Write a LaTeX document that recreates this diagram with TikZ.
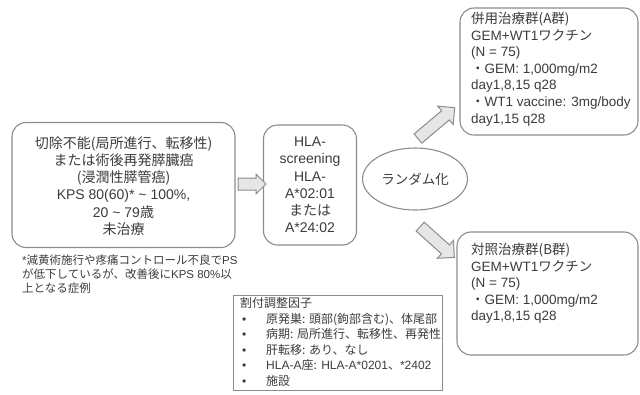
\documentclass[tikz,border=0pt]{standalone}
\usepackage{fontspec}
\setmainfont{Liberation Sans}
\newfontfamily\jp{Noto Sans CJK JP}
\usetikzlibrary{shapes.geometric,shapes.arrows}
\definecolor{txt}{HTML}{3C3C3C}
\definecolor{edge}{HTML}{8C8C8C}
\definecolor{afill}{HTML}{E6E6E6}
\begin{document}
\begin{tikzpicture}[x=1pt,y=-1pt,
  every node/.style={text=txt},
  roundbox/.style={draw=edge, line width=1.1pt, rounded corners=14pt, fill=white},
  plainbox/.style={draw=edge, line width=1pt},
  bigtext/.style={font=\fontsize{14}{17.2}\selectfont, align=center, inner sep=0pt},
  grptext/.style={font=\fontsize{13.5}{16.6}\selectfont, align=left, inner sep=0pt, anchor=north west},
  smalltext/.style={font=\fontsize{11.5}{14}\selectfont, align=left, inner sep=0pt, anchor=north west},
  blockarrow/.style={single arrow, draw=edge, fill=afill, line width=1pt, inner sep=0pt, single arrow tip angle=90},
]
\useasboundingbox (0,0) rectangle (640,394);

% left box
\node[roundbox, minimum width=223pt, minimum height=125pt] (left) at (123.5,185) {};
\node[bigtext] (lefttext) at (123.5,186) {{\jp 切除不能(局所進行、転移性)}\\{\jp または術後再発膵臓癌}\\{\jp (浸潤性膵管癌)}\\KPS 80(60)* \textasciitilde{} 100\%,\\20 \textasciitilde{} 79{\jp 歳}\\{\jp 未治療}};

% footnote
\node[smalltext] (foot) at (22,255) {*{\jp 減黄術施行や疼痛コントロール不良で}PS\\{\jp が低下しているが、改善後に}KPS 80\%{\jp 以}\\{\jp 上となる症例}};

% middle box
\node[roundbox, minimum width=93pt, minimum height=120pt] (mid) at (310,185) {};
\node[bigtext] (midtext) at (310,185) {HLA-\\screening\\HLA-\\A*02:01\\{\jp または}\\A*24:02};

% arrow left -> mid
\node[blockarrow, minimum height=28pt, inner ysep=5.5pt, single arrow head extend=4pt] (arr1) at (249,184) {};

% ellipse
\node[ellipse, draw=edge, line width=1.1pt, minimum width=96pt, minimum height=62pt, font=\fontsize{13.5}{16}\selectfont\jp] (rand) at (415,179) {ランダム化};

% diagonal arrows
\node[blockarrow, minimum height=48pt, inner ysep=5.5pt, single arrow head extend=6pt, rotate=40] (arrA) at (434,125) {};
\node[blockarrow, minimum height=46pt, inner ysep=5.5pt, single arrow head extend=6pt, rotate=-42] (arrB) at (435,240) {};

% A box
\node[roundbox, minimum width=178pt, minimum height=127pt] (boxA) at (549,71.5) {};
\node[grptext] (textA) at (471,12) {{\jp 併用治療群(A群)}\\GEM+WT1{\jp ワクチン}\\(N = 75)\\{\jp ・}GEM: 1,000mg/m2\\day1,8,15 q28\\{\jp ・}WT1 vaccine: 3mg/body\\day1,15 q28};

% B box
\node[roundbox, minimum width=181pt, minimum height=123pt] (boxB) at (547.5,293.5) {};
\node[grptext] (textB) at (471,243) {{\jp 対照治療群(B群)}\\GEM+WT1{\jp ワクチン}\\(N = 75)\\{\jp ・}GEM: 1,000mg/m2\\day1,8,15 q28};

% stratification box
\node[plainbox, minimum width=209pt, minimum height=95pt] (strat) at (337.5,342.5) {};
\node[font=\fontsize{12}{15.5}\selectfont, align=left, inner sep=0pt, anchor=north west] (strattext) at (240,297.5) {{\jp 割付調整因子}\\
\makebox[26pt][l]{\hspace{2pt}•}{\jp 原発巣: 頭部(鉤部含む)、体尾部}\\
\makebox[26pt][l]{\hspace{2pt}•}{\jp 病期: 局所進行、転移性、再発性}\\
\makebox[26pt][l]{\hspace{2pt}•}{\jp 肝転移: あり、なし}\\
\makebox[26pt][l]{\hspace{2pt}•}HLA-A{\jp 座:} HLA-A*0201{\jp 、}*2402\\
\makebox[26pt][l]{\hspace{2pt}•}{\jp 施設}};
\end{tikzpicture}
\end{document}
